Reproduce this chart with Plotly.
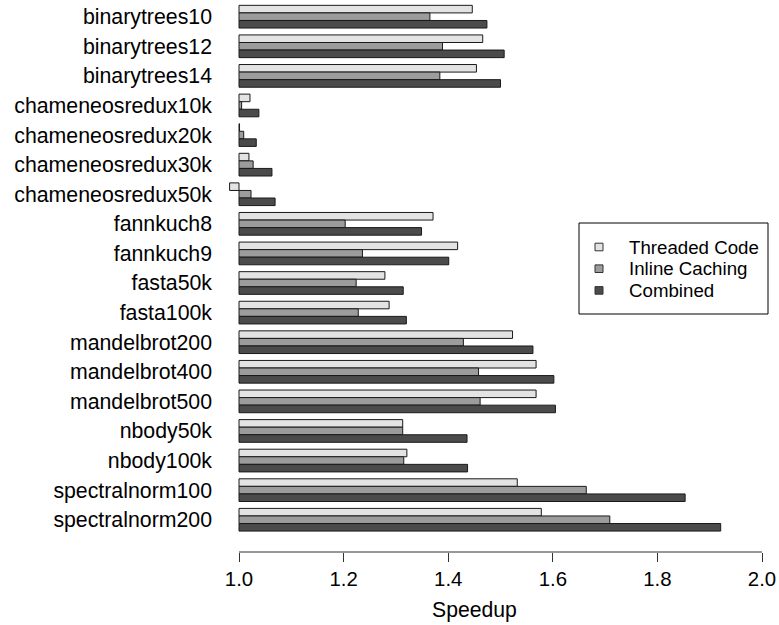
import plotly.graph_objects as go

benchmarks = [
    "binarytrees10", "binarytrees12", "binarytrees14",
    "chameneosredux10k", "chameneosredux20k", "chameneosredux30k", "chameneosredux50k",
    "fannkuch8", "fannkuch9", "fasta50k", "fasta100k",
    "mandelbrot200", "mandelbrot400", "mandelbrot500",
    "nbody50k", "nbody100k", "spectralnorm100", "spectralnorm200",
]

threaded_code = [1.446, 1.466, 1.454, 1.021, 1.001, 1.019, 0.982,
                 1.371, 1.418, 1.279, 1.287, 1.523, 1.568, 1.568,
                 1.313, 1.321, 1.532, 1.578]
inline_caching = [1.365, 1.389, 1.384, 1.005, 1.009, 1.027, 1.023,
                  1.203, 1.236, 1.224, 1.228, 1.429, 1.458, 1.461,
                  1.313, 1.315, 1.664, 1.709]
combined = [1.474, 1.507, 1.500, 1.038, 1.033, 1.063, 1.069,
            1.349, 1.401, 1.314, 1.320, 1.562, 1.602, 1.605,
            1.436, 1.437, 1.853, 1.921]

x_ticks = [1.0, 1.2, 1.4, 1.6, 1.8, 2.0]

series_names = ["Threaded Code", "Inline Caching", "Combined"]
series_values = [threaded_code, inline_caching, combined]
series_colors = ["#e3e3e3", "#9c9c9c", "#4b4b4b"]

FONT = "Liberation Sans, Arial, Helvetica, sans-serif"
BASE = 1.0

W, H = 779, 625
ML, MR, MT, MB = 223, 6, 0, 73
PW, PH = W - ML - MR, H - MT - MB


def px_x(px):
    return (px - ML) / PW


def px_y(py):
    return (H - MB - py) / PH


fig = go.Figure()
for name, vals, color in zip(series_names, series_values, series_colors):
    fig.add_trace(go.Bar(
        y=benchmarks,
        x=[v - BASE for v in vals],
        base=BASE,
        orientation="h",
        name=name,
        marker=dict(color=color, line=dict(color="#1a1a1a", width=1)),
        showlegend=False,
    ))

# custom legend (box, keys, labels)
shapes = [dict(
    type="line", xref="x", yref="paper",
    x0=x_ticks[0], x1=x_ticks[-1], y0=0, y1=0,
    line=dict(color="#333", width=1),
)]
shapes.append(dict(
    type="rect", xref="paper", yref="paper",
    x0=px_x(579), x1=px_x(768), y0=px_y(314), y1=px_y(223),
    line=dict(color="black", width=1), fillcolor="white", layer="above",
))
annotations = [dict(
    text="Speedup", xref="paper", yref="paper",
    x=px_x(474), y=px_y(610), xanchor="center", yanchor="middle",
    showarrow=False, font=dict(size=21.2, family=FONT),
)]
row_centers = [247, 268.7, 290.4]
for name, color, cy in zip(series_names, series_colors, row_centers):
    shapes.append(dict(
        type="rect", xref="paper", yref="paper",
        x0=px_x(595), x1=px_x(603), y0=px_y(cy + 3.8), y1=px_y(cy - 3.8),
        line=dict(color="#333", width=1), fillcolor=color, layer="above",
    ))
    annotations.append(dict(
        text=name, xref="paper", yref="paper",
        x=px_x(627), y=px_y(cy), xanchor="left", yanchor="middle",
        showarrow=False, font=dict(size=18.7, family=FONT),
    ))

fig.update_layout(
    width=W, height=H,
    margin=dict(l=ML, r=MR, t=MT, b=MB, autoexpand=False),
    paper_bgcolor="white", plot_bgcolor="white",
    barmode="group", bargap=0.233, bargroupgap=0,
    font=dict(family=FONT, color="black", size=20),
    showlegend=False,
    xaxis=dict(
        range=[0.9694, 2.021],
        tickvals=x_ticks,
        ticktext=[f"{t:.1f}" for t in x_ticks],
        ticks="outside", ticklen=9, tickwidth=1, tickcolor="#333",
        showline=False, showgrid=False, zeroline=False,
        tickfont=dict(size=20.4, family=FONT),
    ),
    yaxis=dict(
        categoryorder="array", categoryarray=benchmarks,
        range=[18.09, -0.564],
        ticks="", showline=False, showgrid=False, zeroline=False,
        ticklabelstandoff=10,
        tickfont=dict(size=21.3, family=FONT),
    ),
    shapes=shapes,
    annotations=annotations,
)

fig.write_html(
    "out.html",
    config={"displayModeBar": False},
    post_script="document.body.style.margin='0';document.body.style.overflow='hidden';",
)
